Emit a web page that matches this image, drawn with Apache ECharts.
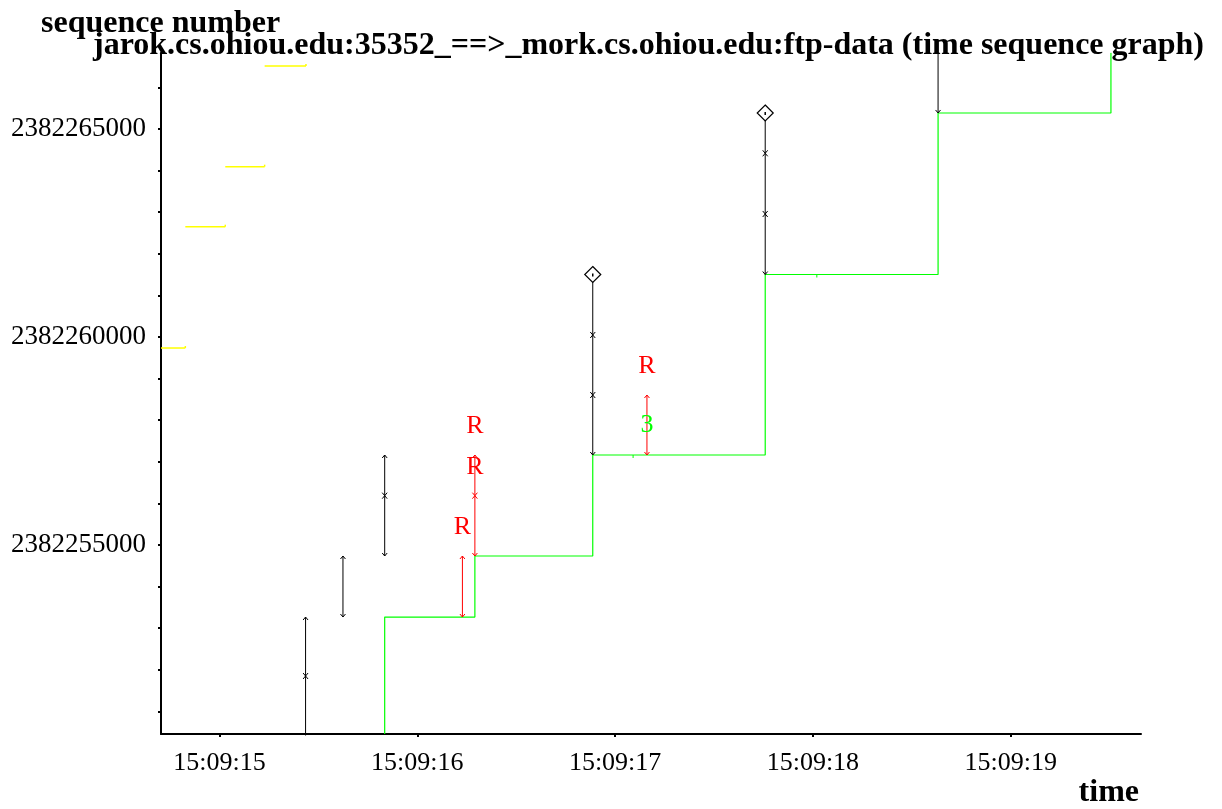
<!DOCTYPE html>
<html>
<head>
<meta charset="utf-8">
<title>time sequence graph</title>
<script src="https://cdn.jsdelivr.net/npm/echarts@6/dist/echarts.min.js"></script>
<style>
  html, body { margin: 0; padding: 0; background: #ffffff; }
  #chart { width: 1222px; height: 809px; }
</style>
</head>
<body>
<div id="chart"></div>
<script>
// Times are seconds past 15:09:00; sequence numbers are absolute.

// Data segments sent (one vertical bar per segment)
const sendTime  = [15.435, 15.435, 15.624, 15.835, 15.835, 16.887, 16.887, 16.887, 17.759, 17.759, 17.759, 18.633];
const sendStart = [2382250420, 2382251850, 2382253268, 2382254735, 2382256185, 2382257163, 2382258605, 2382260048, 2382261502, 2382262957, 2382264416, 2382265385];
const sendEnd   = [2382251850, 2382253268, 2382254735, 2382256185, 2382257163, 2382258605, 2382260048, 2382261502, 2382262957, 2382264416, 2382265385, 2382267140];

// Retransmitted segments
const rexmitTime  = [16.228, 16.291, 16.291, 17.161];
const rexmitStart = [2382253268, 2382254735, 2382256185, 2382257163];
const rexmitEnd   = [2382254735, 2382256185, 2382257163, 2382258605];

// Segments with the push flag (diamond at the top)
const pushTime = [16.887, 17.759];
const pushSeq  = [2382261502, 2382265385];

// Cumulative ACK line
const ackTime = [15.835, 16.291, 16.887, 17.759, 18.633, 19.507];
const ackSeq  = [2382253268, 2382254735, 2382257163, 2382261502, 2382265385, 2382266833];

// Duplicate ACKs (small ticks on the ACK line)
const dupAckTime = [17.091, 18.020];
const dupAckSeq  = [2382257163, 2382261502];

// Triple duplicate ACK marker
const tripleTime  = [17.161];
const tripleSeq   = [2382257163];
const tripleCount = [3];

// Advertised receive window (window edge), held from one update to the next
const winTime = [14.704, 14.827, 15.029, 15.228, 15.437];
const winSeq  = [2382259735, 2382262651, 2382264094, 2382266515];

// Axis ranges and tick labels
const X_MIN = 14.704, X_MAX = 19.659;
const Y_MIN = 2382250456, Y_MAX = 2382266827;
const xTickValues = [15, 16, 17, 18, 19];
const yLabelValues = [2382255000, 2382260000, 2382265000];
const yTickValues = [2382251000, 2382252000, 2382253000, 2382254000, 2382255000, 2382256000,
  2382257000, 2382258000, 2382259000, 2382260000, 2382261000, 2382262000, 2382263000,
  2382264000, 2382265000, 2382266000];

const SERIF = '"Liberation Serif", "Times New Roman", Times, serif';

// Build tables for the series
const segRows = [];
sendTime.forEach((t, i) => segRows.push([t, sendStart[i], sendEnd[i], 0]));
rexmitTime.forEach((t, i) => segRows.push([t, rexmitStart[i], rexmitEnd[i], 1]));

const ackPoints = [[ackTime[0], Y_MIN]];
ackTime.forEach((t, i) => {
  if (i > 0) ackPoints.push([t, ackSeq[i - 1]]);
  ackPoints.push([t, ackSeq[i]]);
});

const winRows = winSeq.map((s, i) => [winTime[i], winTime[i + 1], s]);
const pushRows = pushTime.map((t, i) => [t, pushSeq[i]]);
const dupRows = dupAckTime.map((t, i) => [t, dupAckSeq[i]]);
const tripleRows = tripleTime.map((t, i) => [t, tripleSeq[i], tripleCount[i]]);

function fmtTime(v) {
  const s = Math.round(v);
  return '15:09:' + (s < 10 ? '0' + s : String(s));
}

const chart = echarts.init(document.getElementById('chart'), null, { renderer: 'canvas' });

chart.setOption({
  backgroundColor: '#ffffff',
  animation: false,
  grid: { left: 161, right: 81, top: 53, bottom: 75, containLabel: false },
  xAxis: {
    type: 'value',
    min: X_MIN,
    max: X_MAX,
    axisLine: { show: true, onZero: false, lineStyle: { color: '#000', width: 2 } },
    axisTick: { show: true, customValues: xTickValues, length: 3, lineStyle: { color: '#000', width: 2 } },
    axisLabel: {
      customValues: xTickValues,
      formatter: fmtTime,
      color: '#000',
      fontFamily: SERIF,
      fontSize: 26,
      margin: 16
    },
    splitLine: { show: false }
  },
  yAxis: {
    type: 'value',
    min: Y_MIN,
    max: Y_MAX,
    axisLine: { show: true, onZero: false, lineStyle: { color: '#000', width: 2 } },
    axisTick: { show: true, customValues: yTickValues, length: 3, lineStyle: { color: '#000', width: 2 } },
    axisLabel: {
      customValues: yLabelValues,
      formatter: v => String(v),
      color: '#000',
      fontFamily: SERIF,
      fontSize: 27,
      margin: 15
    },
    splitLine: { show: false }
  },
  graphic: [
    {
      type: 'text', x: 41, y: 24, z: 100,
      style: { text: 'sequence number', fill: '#000', font: 'bold 32px ' + SERIF,
        align: 'left', textAlign: 'left', verticalAlign: 'middle', textVerticalAlign: 'middle' }
    },
    {
      type: 'text', x: 93, y: 46, z: 100,
      style: { text: 'jarok.cs.ohiou.edu:35352_==>_mork.cs.ohiou.edu:ftp-data (time sequence graph)',
        fill: '#000', font: 'bold 32px ' + SERIF,
        align: 'left', textAlign: 'left', verticalAlign: 'middle', textVerticalAlign: 'middle' }
    },
    {
      type: 'text', x: 1139, y: 793, z: 100,
      style: { text: 'time', fill: '#000', font: 'bold 32px ' + SERIF,
        align: 'right', textAlign: 'right', verticalAlign: 'middle', textVerticalAlign: 'middle' }
    }
  ],
  series: [
    {
      // advertised window: horizontal run with a small tick at its end
      type: 'custom',
      name: 'window',
      data: winRows,
      encode: { x: [0, 1], y: 2 },
      renderItem: function (params, api) {
        const a = api.coord([api.value(0), api.value(2)]);
        const b = api.coord([api.value(1), api.value(2)]);
        return {
          type: 'group',
          children: [
            { type: 'line', shape: { x1: a[0], y1: a[1], x2: b[0], y2: b[1] },
              style: { stroke: '#ffff00', lineWidth: 1.5 } },
            { type: 'line', shape: { x1: b[0], y1: b[1], x2: b[0], y2: b[1] - 2 },
              style: { stroke: '#ffff00', lineWidth: 1.5 } }
          ]
        };
      }
    },
    {
      type: 'line',
      name: 'ack',
      data: ackPoints,
      showSymbol: false,
      symbol: 'none',
      clip: true,
      lineStyle: { color: '#00ff00', width: 1.2 },
      itemStyle: { color: '#00ff00' },
      z: 2
    },
    {
      // duplicate ACK ticks
      type: 'custom',
      name: 'dupack',
      data: dupRows,
      encode: { x: 0, y: 1 },
      z: 3,
      renderItem: function (params, api) {
        const p = api.coord([api.value(0), api.value(1)]);
        return { type: 'line', shape: { x1: p[0], y1: p[1], x2: p[0], y2: p[1] + 3 },
          style: { stroke: '#00ff00', lineWidth: 1 } };
      }
    },
    {
      // data and retransmitted segments
      type: 'custom',
      name: 'segments',
      data: segRows,
      encode: { x: 0, y: [1, 2] },
      z: 4,
      renderItem: function (params, api) {
        const t = api.value(0), s0 = api.value(1), s1 = api.value(2), kind = api.value(3);
        const pb = api.coord([t, s0]);
        const pt = api.coord([t, s1]);
        const color = kind === 1 ? '#ff0000' : '#000000';
        const x = pb[0];
        const ah = 3, aw = 2.5;
        const children = [
          { type: 'line', shape: { x1: x, y1: pb[1], x2: x, y2: pt[1] },
            style: { stroke: color, lineWidth: 1 } }
        ];
        if (s1 <= Y_MAX) {
          children.push({ type: 'polyline',
            shape: { points: [[x - aw, pt[1] + ah], [x, pt[1]], [x + aw, pt[1] + ah]] },
            style: { stroke: color, fill: null, lineWidth: 1 } });
        }
        if (s0 >= Y_MIN) {
          children.push({ type: 'polyline',
            shape: { points: [[x - aw, pb[1] - ah], [x, pb[1]], [x + aw, pb[1] - ah]] },
            style: { stroke: color, fill: null, lineWidth: 1 } });
        }
        if (kind === 1) {
          children.push({ type: 'text', x: x, y: pt[1] - 29,
            style: { text: 'R', fill: '#ff0000', font: '26px ' + SERIF,
              align: 'center', textAlign: 'center', verticalAlign: 'middle', textVerticalAlign: 'middle' } });
        }
        return { type: 'group', children: children };
      }
    },
    {
      // push flag diamonds
      type: 'custom',
      name: 'push',
      data: pushRows,
      encode: { x: 0, y: 1 },
      z: 5,
      renderItem: function (params, api) {
        const p = api.coord([api.value(0), api.value(1)]);
        const r = 8;
        return {
          type: 'group',
          children: [
            { type: 'polygon',
              shape: { points: [[p[0], p[1] - r], [p[0] + r, p[1]], [p[0], p[1] + r], [p[0] - r, p[1]]] },
              style: { stroke: '#000', fill: '#fff', lineWidth: 1.2 } },
            { type: 'line', shape: { x1: p[0], y1: p[1] - 1, x2: p[0], y2: p[1] + 2 },
              style: { stroke: '#000', lineWidth: 1.5 } }
          ]
        };
      }
    },
    {
      // triple duplicate ACK count
      type: 'custom',
      name: 'triple',
      data: tripleRows,
      encode: { x: 0, y: 1 },
      z: 6,
      renderItem: function (params, api) {
        const p = api.coord([api.value(0), api.value(1)]);
        return { type: 'text', x: p[0], y: p[1] - 30,
          style: { text: String(api.value(2)), fill: '#00ff00', font: '26px ' + SERIF,
            align: 'center', textAlign: 'center', verticalAlign: 'middle', textVerticalAlign: 'middle' } };
      }
    }
  ]
});
</script>
</body>
</html>
